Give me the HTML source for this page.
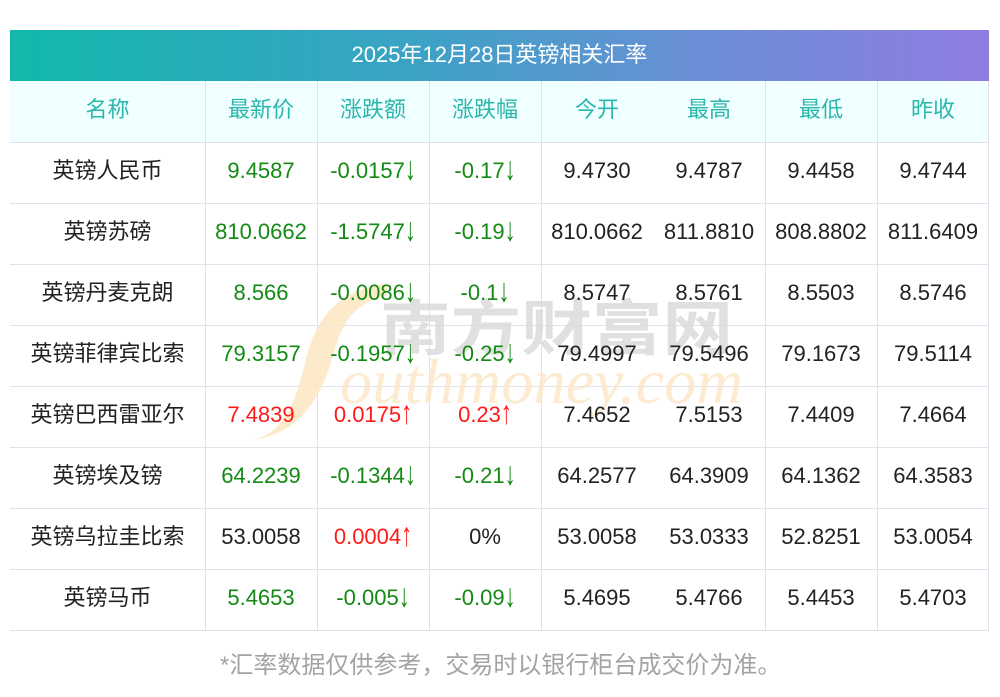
<!DOCTYPE html>
<html><head><meta charset="utf-8">
<style>
*{margin:0;padding:0;box-sizing:border-box}
html,body{width:1000px;height:697px;background:#fff;overflow:hidden}
body{position:relative;font-family:"Liberation Sans","Noto Sans CJK SC",sans-serif}
.title{position:absolute;left:10px;top:30px;width:979px;height:51px;background:linear-gradient(90deg,#12b8ab 0%,#3aa3c4 40%,#6a8fd6 70%,#8f7ce0 100%);color:#fff;font-size:22px;display:flex;align-items:center;justify-content:center;padding-bottom:5px}
.hrow{position:absolute;left:10px;top:81px;width:979px;height:61px;background:#f0ffff}
.h{position:absolute;height:1px;left:10px;width:979px;background:#e0e1ea}
.v{position:absolute;width:1px;top:81px;height:549px;background:#e0e1ea}
.c{position:absolute;display:flex;align-items:center;justify-content:center;font-size:22px;line-height:1;color:#222;white-space:nowrap;padding-bottom:3px}
.hd{color:#2ab7ac}
.g{color:#138a13}
.r{color:#ff1a1a}
.a{display:inline-block;transform:scaleY(1.5);transform-origin:50% 70%}
.foot{position:absolute;left:220px;top:651px;font-size:24px;color:#a3a3a3;line-height:30px;white-space:nowrap}
svg.wm{position:absolute;left:0;top:0}
</style></head><body>
<div class="title">2025年12月28日英镑相关汇率</div>
<div class="hrow"></div>
<div class="h" style="top:142px"></div>
<div class="h" style="top:203px"></div>
<div class="h" style="top:264px"></div>
<div class="h" style="top:325px"></div>
<div class="h" style="top:386px"></div>
<div class="h" style="top:447px"></div>
<div class="h" style="top:508px"></div>
<div class="h" style="top:569px"></div>
<div class="h" style="top:630px"></div>
<div class="v" style="left:205px"></div>
<div class="v" style="left:317px"></div>
<div class="v" style="left:429px"></div>
<div class="v" style="left:541px"></div>
<div class="v" style="left:765px"></div>
<div class="v" style="left:877px"></div>
<div class="v" style="left:988px"></div>

<svg class="wm" width="1000" height="697" viewBox="0 0 1000 697">
<path d="M255 440 C292 428 298 388 308 352 C320 312 342 290 388 283 L386 296 C356 302 342 322 334 352 C322 398 300 432 255 440 Z" fill="#fde6c2" opacity="0.85"/>
<text x="380" y="350" font-family="Noto Sans CJK SC, sans-serif" font-weight="bold" font-size="60" fill="#d9d9d9" opacity="0.8" textLength="353" lengthAdjust="spacingAndGlyphs">南方财富网</text>
<text x="340" y="403" font-family="Liberation Serif, serif" font-style="italic" font-size="64" fill="#fde7c6" opacity="0.8" textLength="403" lengthAdjust="spacingAndGlyphs">outhmoney.com</text>
</svg>

<!-- header row -->
<div class="c hd" style="left:10px;top:81px;width:195px;height:61px">名称</div>
<div class="c hd" style="left:205px;top:81px;width:112px;height:61px">最新价</div>
<div class="c hd" style="left:317px;top:81px;width:112px;height:61px">涨跌额</div>
<div class="c hd" style="left:429px;top:81px;width:112px;height:61px">涨跌幅</div>
<div class="c hd" style="left:541px;top:81px;width:112px;height:61px">今开</div>
<div class="c hd" style="left:653px;top:81px;width:112px;height:61px">最高</div>
<div class="c hd" style="left:765px;top:81px;width:112px;height:61px">最低</div>
<div class="c hd" style="left:877px;top:81px;width:112px;height:61px">昨收</div>

<!-- row 1 -->
<div class="c" style="left:10px;top:142px;width:195px;height:61px">英镑人民币</div>
<div class="c g" style="left:205px;top:142px;width:112px;height:61px">9.4587</div>
<div class="c g" style="left:317px;top:142px;width:112px;height:61px">-0.0157<span class="a">↓</span></div>
<div class="c g" style="left:429px;top:142px;width:112px;height:61px">-0.17<span class="a">↓</span></div>
<div class="c" style="left:541px;top:142px;width:112px;height:61px">9.4730</div>
<div class="c" style="left:653px;top:142px;width:112px;height:61px">9.4787</div>
<div class="c" style="left:765px;top:142px;width:112px;height:61px">9.4458</div>
<div class="c" style="left:877px;top:142px;width:112px;height:61px">9.4744</div>

<!-- row 2 -->
<div class="c" style="left:10px;top:203px;width:195px;height:61px">英镑苏磅</div>
<div class="c g" style="left:205px;top:203px;width:112px;height:61px">810.0662</div>
<div class="c g" style="left:317px;top:203px;width:112px;height:61px">-1.5747<span class="a">↓</span></div>
<div class="c g" style="left:429px;top:203px;width:112px;height:61px">-0.19<span class="a">↓</span></div>
<div class="c" style="left:541px;top:203px;width:112px;height:61px">810.0662</div>
<div class="c" style="left:653px;top:203px;width:112px;height:61px">811.8810</div>
<div class="c" style="left:765px;top:203px;width:112px;height:61px">808.8802</div>
<div class="c" style="left:877px;top:203px;width:112px;height:61px">811.6409</div>

<!-- row 3 -->
<div class="c" style="left:10px;top:264px;width:195px;height:61px">英镑丹麦克朗</div>
<div class="c g" style="left:205px;top:264px;width:112px;height:61px">8.566</div>
<div class="c g" style="left:317px;top:264px;width:112px;height:61px">-0.0086<span class="a">↓</span></div>
<div class="c g" style="left:429px;top:264px;width:112px;height:61px">-0.1<span class="a">↓</span></div>
<div class="c" style="left:541px;top:264px;width:112px;height:61px">8.5747</div>
<div class="c" style="left:653px;top:264px;width:112px;height:61px">8.5761</div>
<div class="c" style="left:765px;top:264px;width:112px;height:61px">8.5503</div>
<div class="c" style="left:877px;top:264px;width:112px;height:61px">8.5746</div>

<!-- row 4 -->
<div class="c" style="left:10px;top:325px;width:195px;height:61px">英镑菲律宾比索</div>
<div class="c g" style="left:205px;top:325px;width:112px;height:61px">79.3157</div>
<div class="c g" style="left:317px;top:325px;width:112px;height:61px">-0.1957<span class="a">↓</span></div>
<div class="c g" style="left:429px;top:325px;width:112px;height:61px">-0.25<span class="a">↓</span></div>
<div class="c" style="left:541px;top:325px;width:112px;height:61px">79.4997</div>
<div class="c" style="left:653px;top:325px;width:112px;height:61px">79.5496</div>
<div class="c" style="left:765px;top:325px;width:112px;height:61px">79.1673</div>
<div class="c" style="left:877px;top:325px;width:112px;height:61px">79.5114</div>

<!-- row 5 -->
<div class="c" style="left:10px;top:386px;width:195px;height:61px">英镑巴西雷亚尔</div>
<div class="c r" style="left:205px;top:386px;width:112px;height:61px">7.4839</div>
<div class="c r" style="left:317px;top:386px;width:112px;height:61px">0.0175<span class="a">↑</span></div>
<div class="c r" style="left:429px;top:386px;width:112px;height:61px">0.23<span class="a">↑</span></div>
<div class="c" style="left:541px;top:386px;width:112px;height:61px">7.4652</div>
<div class="c" style="left:653px;top:386px;width:112px;height:61px">7.5153</div>
<div class="c" style="left:765px;top:386px;width:112px;height:61px">7.4409</div>
<div class="c" style="left:877px;top:386px;width:112px;height:61px">7.4664</div>

<!-- row 6 -->
<div class="c" style="left:10px;top:447px;width:195px;height:61px">英镑埃及镑</div>
<div class="c g" style="left:205px;top:447px;width:112px;height:61px">64.2239</div>
<div class="c g" style="left:317px;top:447px;width:112px;height:61px">-0.1344<span class="a">↓</span></div>
<div class="c g" style="left:429px;top:447px;width:112px;height:61px">-0.21<span class="a">↓</span></div>
<div class="c" style="left:541px;top:447px;width:112px;height:61px">64.2577</div>
<div class="c" style="left:653px;top:447px;width:112px;height:61px">64.3909</div>
<div class="c" style="left:765px;top:447px;width:112px;height:61px">64.1362</div>
<div class="c" style="left:877px;top:447px;width:112px;height:61px">64.3583</div>

<!-- row 7 -->
<div class="c" style="left:10px;top:508px;width:195px;height:61px">英镑乌拉圭比索</div>
<div class="c" style="left:205px;top:508px;width:112px;height:61px">53.0058</div>
<div class="c r" style="left:317px;top:508px;width:112px;height:61px">0.0004<span class="a">↑</span></div>
<div class="c" style="left:429px;top:508px;width:112px;height:61px">0%</div>
<div class="c" style="left:541px;top:508px;width:112px;height:61px">53.0058</div>
<div class="c" style="left:653px;top:508px;width:112px;height:61px">53.0333</div>
<div class="c" style="left:765px;top:508px;width:112px;height:61px">52.8251</div>
<div class="c" style="left:877px;top:508px;width:112px;height:61px">53.0054</div>

<!-- row 8 -->
<div class="c" style="left:10px;top:569px;width:195px;height:61px">英镑马币</div>
<div class="c g" style="left:205px;top:569px;width:112px;height:61px">5.4653</div>
<div class="c g" style="left:317px;top:569px;width:112px;height:61px">-0.005<span class="a">↓</span></div>
<div class="c g" style="left:429px;top:569px;width:112px;height:61px">-0.09<span class="a">↓</span></div>
<div class="c" style="left:541px;top:569px;width:112px;height:61px">5.4695</div>
<div class="c" style="left:653px;top:569px;width:112px;height:61px">5.4766</div>
<div class="c" style="left:765px;top:569px;width:112px;height:61px">5.4453</div>
<div class="c" style="left:877px;top:569px;width:112px;height:61px">5.4703</div>

<div class="foot">*汇率数据仅供参考，交易时以银行柜台成交价为准。</div>
</body></html>
